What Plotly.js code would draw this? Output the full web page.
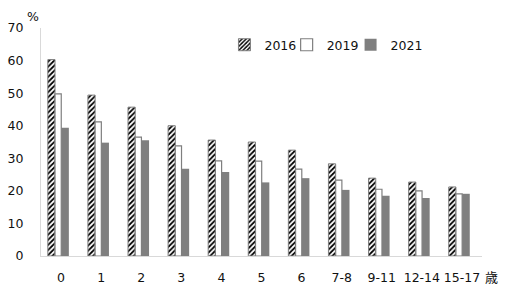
<!DOCTYPE html>
<html>
<head>
<meta charset="utf-8">
<script src="https://cdn.plot.ly/plotly-3.0.1.min.js"></script>
<style>html,body{margin:0;padding:0;background:#fff;}#chart{width:513px;height:298px;}</style>
</head>
<body>
<div id="chart"></div>
<script>
const categories = ['0','1','2','3','4','5','6','7-8','9-11','12-14','15-17'];
const v2016 = [60.3, 49.4, 45.7, 40.0, 35.6, 35.0, 32.5, 28.3, 23.9, 22.7, 21.2];
const v2019 = [49.8, 41.2, 36.5, 33.8, 29.2, 29.1, 26.7, 23.3, 20.5, 20.0, 19.1];
const v2021 = [39.4, 34.8, 35.5, 26.8, 25.8, 22.6, 23.9, 20.3, 18.5, 17.8, 19.1];
const seriesNames = ['2016', '2019', '2021'];
const yTicks = [0, 10, 20, 30, 40, 50, 60, 70];

const FONT = 'DejaVu Sans, Verdana, sans-serif';
const GREY = '#7f7f7f';
const TXT = '#111111';

const traces = [
  {
    type: 'bar', name: seriesNames[0], x: categories, y: v2016, legend: 'legend',
    offset: -0.33, width: 0.18,
    marker: {
      color: '#ffffff',
      line: {color: GREY, width: 1},
      pattern: {shape: '/', fgcolor: '#000000', bgcolor: '#ffffff', size: 3.6, solidity: 0.5}
    }
  },
  {
    type: 'bar', name: seriesNames[1], x: categories, y: v2019, legend: 'legend2',
    offset: -0.15, width: 0.155,
    marker: {color: '#ffffff', line: {color: GREY, width: 1.2}}
  },
  {
    type: 'bar', name: seriesNames[2], x: categories, y: v2021, legend: 'legend3',
    offset: 0.005, width: 0.19,
    marker: {color: GREY, line: {width: 0}}
  }
];

function legendAt(xp) {
  return {
    orientation: 'h', x: xp, xanchor: 'left', y: 0.925, yanchor: 'middle',
    font: {family: FONT, size: 12.5, color: TXT},
    itemwidth: 30, borderwidth: 0, bgcolor: 'rgba(0,0,0,0)'
  };
}

const layout = {
  width: 513, height: 298,
  margin: {l: 41, r: 31, t: 28, b: 42, pad: 0},
  paper_bgcolor: '#ffffff', plot_bgcolor: '#ffffff',
  font: {family: FONT, size: 12, color: TXT},
  barmode: 'overlay',
  showlegend: true,
  legend: legendAt(0.416),
  legend2: legendAt(0.557),
  legend3: legendAt(0.702),
  xaxis: {
    type: 'category', range: [-0.5, 10.5],
    showline: true, linecolor: '#d9d9d9', linewidth: 1,
    showgrid: false, zeroline: false, ticks: '',
    ticklabelstandoff: 10, tickfont: {family: FONT, size: 12.5, color: TXT},
    fixedrange: true
  },
  yaxis: {
    range: [0, 70], tickvals: yTicks, ticktext: yTicks.map(String),
    showline: true, linecolor: '#d9d9d9', linewidth: 1,
    showgrid: false, zeroline: false, ticks: '',
    ticklabelstandoff: 14, tickfont: {family: FONT, size: 12.5, color: TXT},
    fixedrange: true
  },
  annotations: [
    {text: '%', xref: 'paper', yref: 'paper', x: -0.018, y: 1.05, xanchor: 'center', yanchor: 'middle',
     showarrow: false, font: {family: FONT, size: 12.5, color: TXT}},
    {text: '歳', xref: 'paper', yref: 'paper', x: 1.022, y: -0.09, xanchor: 'center', yanchor: 'middle',
     showarrow: false, font: {family: 'Noto Sans CJK JP, sans-serif', size: 13, color: TXT}}
  ]
};

Plotly.newPlot('chart', traces, layout, {displayModeBar: false, staticPlot: true});
</script>
</body>
</html>
